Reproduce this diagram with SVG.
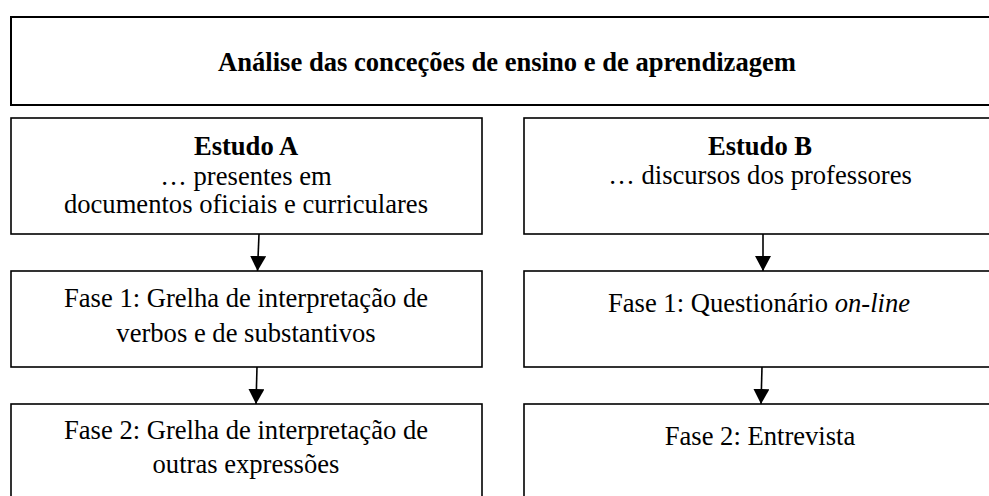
<svg xmlns="http://www.w3.org/2000/svg" width="989" height="496" viewBox="0 0 989 496">
<style>
.box{fill:#fff;stroke:#000;stroke-width:1.6}
.t{font-family:"Liberation Serif","Times New Roman",serif;font-size:26.6px;fill:#000;text-anchor:middle}
.b{font-weight:bold}
.c{stroke:#000;stroke-width:1.6;fill:none}
</style>
<defs>
<marker id="ah" viewBox="0 0 15 16" refX="15" refY="8" markerWidth="15" markerHeight="16" markerUnits="userSpaceOnUse" orient="auto">
<path d="M0,0 L15,8 L0,16 Z" fill="#000"/>
</marker>
</defs>
<g id="top">
<rect class="box" x="11" y="17" width="990" height="88" style="stroke-width:2"/>
<text class="t b" x="507" y="71">Análise das conceções de ensino e de aprendizagem</text>
</g>
<g id="estudoA">
<rect class="box" x="11" y="118" width="471" height="116"/>
<text class="t b" x="246" y="155">Estudo A</text>
<text class="t" x="246" y="185">… presentes em</text>
<text class="t" x="246" y="213">documentos oficiais e curriculares</text>
</g>
<g id="estudoB">
<rect class="box" x="524" y="118" width="480" height="116"/>
<text class="t b" x="760" y="155">Estudo B</text>
<text class="t" x="760" y="184">… discursos dos professores</text>
</g>
<g id="faseA1">
<rect class="box" x="11" y="271" width="471" height="96"/>
<text class="t" x="246" y="307">Fase 1: Grelha de interpretação de</text>
<text class="t" x="246" y="342">verbos e de substantivos</text>
</g>
<g id="faseB1">
<rect class="box" x="524" y="271" width="480" height="96"/>
<text class="t" x="759" y="312">Fase 1: Questionário <tspan font-style="italic">on-line</tspan></text>
</g>
<g id="faseA2">
<rect class="box" x="11" y="404" width="471" height="100"/>
<text class="t" x="246" y="439">Fase 2: Grelha de interpretação de</text>
<text class="t" x="246" y="473">outras expressões</text>
</g>
<g id="faseB2">
<rect class="box" x="524" y="404" width="480" height="100"/>
<text class="t" x="760" y="445">Fase 2: Entrevista</text>
</g>
<g id="connectors">
<line class="c" x1="259" y1="234" x2="257.5" y2="271" marker-end="url(#ah)"/>
<line class="c" x1="257" y1="367" x2="256" y2="404" marker-end="url(#ah)"/>
<line class="c" x1="763" y1="234" x2="763" y2="271" marker-end="url(#ah)"/>
<line class="c" x1="762" y1="367" x2="761" y2="404" marker-end="url(#ah)"/>
</g>
</svg>
